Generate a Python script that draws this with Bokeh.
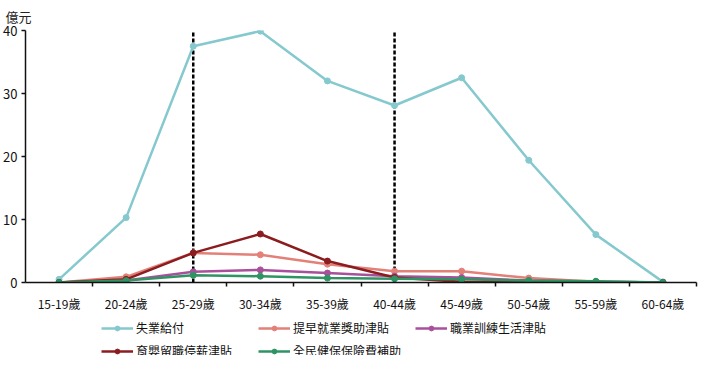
from bokeh.plotting import figure
from bokeh.layouts import column
from bokeh.models import (Range1d, FixedTicker, Legend, LegendItem, Title, ColumnDataSource)
from bokeh.embed import file_html
from bokeh.resources import INLINE

# ---- data ----
ages = ["15-19歲", "20-24歲", "25-29歲", "30-34歲", "35-39歲",
        "40-44歲", "45-49歲", "50-54歲", "55-59歲", "60-64歲"]
unemployment = [0.5, 10.3, 37.5, 39.9, 32.0, 28.1, 32.5, 19.4, 7.6, 0.1]
early_reemploy = [0.0, 0.9, 4.7, 4.4, 2.9, 1.8, 1.8, 0.7, 0.1, 0.0]
training = [0.0, 0.3, 1.7, 2.0, 1.5, 1.0, 0.8, 0.3, 0.1, 0.0]
parental = [0.0, 0.5, 4.7, 7.7, 3.4, 0.8, 0.1, 0.0, 0.0, 0.0]
health = [0.0, 0.3, 1.15, 1.0, 0.7, 0.6, 0.5, 0.3, 0.2, 0.0]
series_names = ["失業給付", "提早就業獎助津貼", "職業訓練生活津貼", "育嬰留職停薪津貼", "全民健保保險費補助"]
marked_ages = ["25-29歲", "40-44歲"]
y_ticks = [0, 10, 20, 30, 40]
unit_label = "億元"

FONT = "Noto Sans CJK TC"
colors = ["#85c9cf", "#e38078", "#a9509c", "#8b1c1f", "#2f9464"]

n = len(ages)
pos = list(range(n))                       # category positions on the x scale
pos_of = {a: i for i, a in enumerate(ages)}
all_series = [unemployment, early_reemploy, training, parental, health]

p = figure(width=700, height=314, output_backend="svg", toolbar_location=None,
           x_range=Range1d(-0.5, n - 0.5), y_range=Range1d(0, 40),
           min_border_left=20, min_border_right=4, min_border_top=0, min_border_bottom=0)
p.outline_line_color = None
p.grid.grid_line_color = None
p.background_fill_color = None
p.border_fill_color = "white"

# title as unit label
p.title = Title(text=unit_label, align="left", offset=-20, text_font=FONT,
                text_font_size="13px", text_font_style="normal", text_color="#222222",
                standoff=9)

# y axis
yax = p.yaxis[0]
yax.ticker = FixedTicker(ticks=y_ticks)
yax.minor_tick_line_color = None
yax.major_tick_in = 0
yax.major_tick_out = 4
yax.major_label_text_font = FONT
yax.major_label_text_font_size = "13px"
yax.major_label_text_color = "#111111"
yax.axis_line_color = "#111111"
yax.axis_line_width = 1.5
yax.major_tick_line_color = "#111111"
yax.major_tick_line_width = 1.5
yax.major_label_standoff = 4

# x axis: labels at category centres, tick marks at category boundaries
xax = p.xaxis[0]
xax.ticker = FixedTicker(ticks=pos, minor_ticks=[i + 0.5 for i in pos])
xax.major_label_overrides = {i: a for i, a in zip(pos, ages)}
xax.major_tick_line_color = None
xax.major_tick_in = 0
xax.major_tick_out = 4
xax.minor_tick_in = 0
xax.minor_tick_out = 4
xax.minor_tick_line_color = "#111111"
xax.minor_tick_line_width = 1.5
xax.axis_line_color = "#111111"
xax.axis_line_width = 1.5
xax.major_label_text_font = FONT
xax.major_label_text_font_size = "12px"
xax.major_label_text_color = "#111111"
xax.major_label_standoff = 8

# dashed markers
mx = [pos_of[a] for a in marked_ages]
p.segment(x0=mx, x1=mx, y0=[y_ticks[0]] * len(mx), y1=[y_ticks[-1]] * len(mx),
          line_color="black", line_width=2.5, line_dash="4 2")

for vals, c in zip(all_series, colors):
    src = ColumnDataSource(dict(x=pos, y=vals, age=ages))
    p.line("x", "y", source=src, line_color=c, line_width=2.5)
    p.scatter("x", "y", source=src, size=6, fill_color=c, line_color=c)

# legend strip below the chart (its own small figure; series drawn out of view,
# only their legend swatches show)
lp = figure(width=700, height=41, output_backend="svg", toolbar_location=None,
            x_range=Range1d(-0.5, n - 0.5), y_range=Range1d(1000, 1001),
            x_axis_location=None, y_axis_location=None,
            min_border_left=0, min_border_right=0, min_border_top=0, min_border_bottom=0)
lp.outline_line_color = None
lp.grid.grid_line_color = None
lp.background_fill_color = None
lp.border_fill_color = "white"

items = []
for name, vals, c in zip(series_names, all_series, colors):
    src = ColumnDataSource(dict(x=pos, y=vals, age=ages))
    r1 = lp.line("x", "y", source=src, line_color=c, line_width=2.5)
    r2 = lp.scatter("x", "y", source=src, size=6, fill_color=c, line_color=c)
    items.append(LegendItem(label=name, renderers=[r1, r2]))

legend = Legend(items=items, orientation="horizontal", nrows=2, location=(76, -4),
                border_line_color=None, background_fill_alpha=0,
                label_text_font=FONT, label_text_font_size="12px",
                label_text_color="#111111", glyph_width=32, glyph_height=12,
                label_height=12, label_standoff=3, spacing=6, label_width=116,
                padding=1, margin=0)
lp.add_layout(legend)

layout = column(p, lp, spacing=0)
open("out.html", "w").write(file_html(layout, INLINE))
